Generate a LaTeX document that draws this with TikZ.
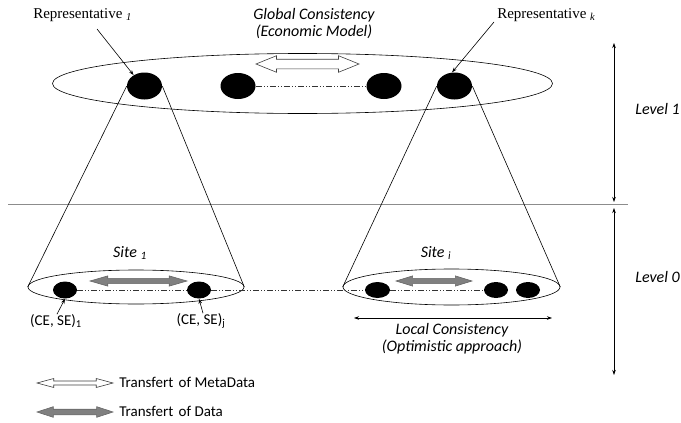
\documentclass[tikz,border=0pt]{standalone}
\usepackage{fontspec}
\setmainfont{Carlito}
\newfontfamily\repfont{Liberation Serif}
\usetikzlibrary{shapes.geometric,shapes.arrows,arrows.meta}
\begin{document}
\begin{tikzpicture}[x=1pt,y=-1pt,line width=0.6pt,
  ring/.style={ellipse, draw, inner sep=0pt},
  blackdot/.style={ellipse, fill=black, inner sep=0pt},
  arrowbase/.style={double arrow, inner xsep=0pt, text height=0pt, text depth=0pt, minimum width=0pt, double arrow head indent=0pt},
  metaarrow/.style={arrowbase, draw=black!75, fill=white, line width=0.6pt},
  dataarrow/.style={arrowbase, draw=black!60, fill=black!50, line width=0.6pt},
  lbl/.style={font=\fontsize{16}{18}\selectfont\itshape, inner sep=1pt},
  plain/.style={font=\fontsize{15}{17}\selectfont, inner sep=1pt},
  reptext/.style={font=\repfont\fontsize{15}{17}\selectfont, inner sep=1pt},
  dashdot/.style={draw=black!80, line width=0.5pt, dash pattern=on 6pt off 2pt on 1pt off 2pt on 1pt off 2pt},
  tip/.style={-{Stealth[length=5pt,width=3.5pt]}},
  dtip/.style={{Stealth[length=5pt,width=3.5pt]}-{Stealth[length=5pt,width=3.5pt]}}
]
\useasboundingbox (0,0) rectangle (681,423);

% ---- Level 1 ----
\node[ring, minimum width=500pt, minimum height=60pt] (top) at (302.5,83.5) {};
\node[blackdot, minimum width=35pt, minimum height=27pt] (t1) at (144.5,86) {};
\node[blackdot, minimum width=35pt, minimum height=26pt] (t2) at (238,86) {};
\node[blackdot, minimum width=35pt, minimum height=26pt] (t3) at (384,86) {};
\node[blackdot, minimum width=35pt, minimum height=27pt] (t4) at (454.5,86) {};
\draw[dashdot] (t2.east) -- (t3.west);
\node[metaarrow, minimum height=103pt, inner ysep=4.5pt, double arrow head extend=3.5pt, double arrow tip angle=44] (gmeta) at (307.5,64) {};

\node[lbl] (glob1) at (314,15) {Global Consistency};
\node[lbl] (glob2) at (314,32) {(Economic Model)};

\node[reptext, anchor=west] (rep1) at (32,15) {Representative \textsubscript{\textit{1}}};
\coordinate (r1tail) at (97,29);
\draw[tip] (r1tail) -- (t1.135);
\node[reptext, anchor=west] (repk) at (496,15) {Representative \textsubscript{\textit{k}}};
\coordinate (rktail) at (494,22);
\draw[tip] (rktail) -- (t4.100);

% ---- separator and levels ----
\coordinate (hl) at (8,204);
\coordinate (hr) at (628,204);
\draw[black!45, line width=1pt] (hl) -- (hr);
\coordinate (l1a) at (614,43);
\coordinate (l1b) at (614,202);
\coordinate (l0a) at (614,208);
\coordinate (l0b) at (614,375);
\draw[dtip] (l1a) -- (l1b);
\draw[dtip] (l0a) -- (l0b);
\node[lbl, anchor=west] (lev1) at (634,109) {Level 1};
\node[lbl, anchor=west] (lev0) at (634,277) {Level 0};

% ---- Level 0 sites ----
\node[ring, minimum width=216pt, minimum height=34pt] (s1) at (136,287) {};
\node[ring, minimum width=217pt, minimum height=36pt] (si) at (451.5,287) {};

\draw (t1.west) -- (s1.west);
\draw (t1.east) -- (s1.east);
\draw (t4.west) -- (si.west);
\draw (t4.east) -- (si.east);

\node[blackdot, minimum width=24pt, minimum height=17pt] (a1) at (65,290) {};
\node[blackdot, minimum width=24pt, minimum height=17pt] (aj) at (199,290) {};
\node[blackdot, minimum width=25pt, minimum height=16pt] (b1) at (377.5,290) {};
\node[blackdot, minimum width=24pt, minimum height=16pt] (b2) at (496,290) {};
\node[blackdot, minimum width=24pt, minimum height=16pt] (b3) at (528,290) {};
\draw[dashdot] (a1.east) -- (aj.west);
\draw[dashdot] (aj.east) -- (b1.west);
\draw[dashdot] (b1.east) -- (b2.west);

\node[dataarrow, minimum height=97pt, inner ysep=2.3pt, double arrow head extend=2.5pt, double arrow tip angle=32] (sdata1) at (138.5,281) {};
\node[dataarrow, minimum height=76pt, inner ysep=2.3pt, double arrow head extend=2.5pt, double arrow tip angle=34] (sdatai) at (434,281) {};

\node[lbl] (site1) at (130,253) {Site \textsubscript{1}};
\node[lbl] (sitei) at (436,253) {Site \textsubscript{i}};

\node[plain] (ce1) at (56,321) {(CE, SE)\textsubscript{1}};
\node[plain] (cej) at (201,321) {(CE, SE)\textsubscript{j}};
\draw[tip] (ce1.north) ++(1,1) -- (a1.south);
\draw[tip] (cej.north) ++(2,1) -- (aj.south);

\coordinate (lcl) at (354,318);
\coordinate (lcr) at (552,318);
\draw[dtip] (lcl) -- (lcr);
\node[lbl] (loc1) at (452,330) {Local Consistency};
\node[lbl] (loc2) at (452,347) {(Optimistic approach)};

% ---- legend ----
\node[metaarrow, minimum height=76pt, inner ysep=1.7pt, double arrow head extend=2.5pt, double arrow tip angle=30] (legmeta) at (75,383) {};
\node[plain, anchor=west] (legmetat) at (118,382) {Transfert\hspace{2pt} of MetaData};
\node[dataarrow, minimum height=76pt, inner ysep=2.5pt, double arrow head extend=2.5pt, double arrow tip angle=36] (legdata) at (75,412) {};
\node[plain, anchor=west] (legdatat) at (118,411) {Transfert\hspace{2pt} of Data};
\end{tikzpicture}
\end{document}
